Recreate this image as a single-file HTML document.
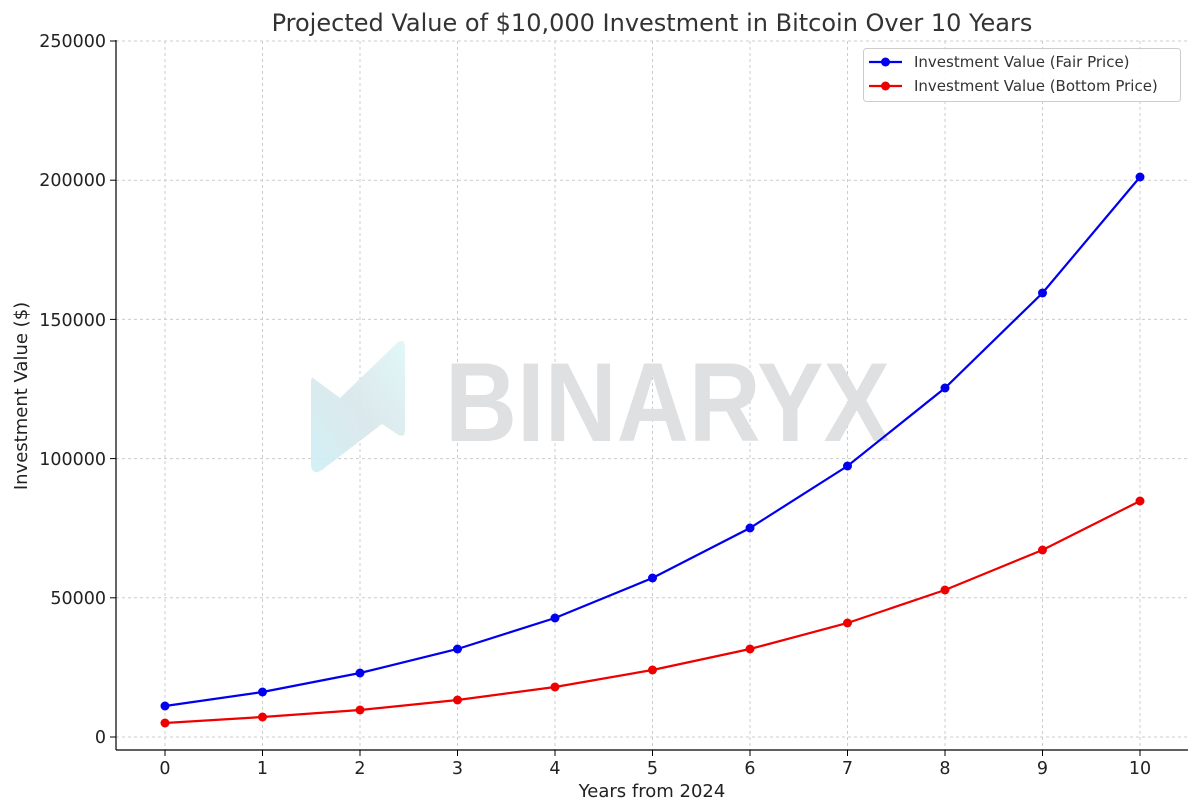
<!DOCTYPE html>
<html><head><meta charset="utf-8"><style>body{margin:0;background:#fff}svg{display:block}</style></head><body>
<svg width="1200" height="812" viewBox="0 0 1200 812" xmlns="http://www.w3.org/2000/svg" font-family="'DejaVu Sans','Liberation Sans',sans-serif">
<defs><linearGradient id="g" x1="0" y1="1" x2="1" y2="0"><stop offset="0" stop-color="#cdeff5"/><stop offset="0.5" stop-color="#d8e6ea"/><stop offset="1" stop-color="#def7f7"/></linearGradient></defs>
<text x="652" y="31" font-size="24" text-anchor="middle" fill="#333">Projected Value of $10,000 Investment in Bitcoin Over 10 Years</text>
<g stroke="#ccc" stroke-width="1" stroke-dasharray="3,3">
<line x1="165" y1="41" x2="165" y2="750"/><line x1="262.5" y1="41" x2="262.5" y2="750"/><line x1="360" y1="41" x2="360" y2="750"/><line x1="457.5" y1="41" x2="457.5" y2="750"/><line x1="555" y1="41" x2="555" y2="750"/><line x1="652.5" y1="41" x2="652.5" y2="750"/><line x1="750" y1="41" x2="750" y2="750"/><line x1="847.5" y1="41" x2="847.5" y2="750"/><line x1="945" y1="41" x2="945" y2="750"/><line x1="1042.5" y1="41" x2="1042.5" y2="750"/><line x1="1140" y1="41" x2="1140" y2="750"/>
<line x1="116" y1="737" x2="1188" y2="737"/><line x1="116" y1="597.8" x2="1188" y2="597.8"/><line x1="116" y1="458.6" x2="1188" y2="458.6"/><line x1="116" y1="319.4" x2="1188" y2="319.4"/><line x1="116" y1="180.2" x2="1188" y2="180.2"/><line x1="116" y1="41" x2="1188" y2="41"/>
</g>
<path d="M313,378 L340,398 L398,342 Q405,338 405,348 L405,430 Q405,439 397,434 L382,424 L322,470 Q312,476 311,465 L311,384 Q311,376 313,378 Z" fill="url(#g)" opacity="0.9"/>
<text x="445" y="441" font-family="'Liberation Sans',sans-serif" font-weight="bold" font-size="112" fill="#dfe0e1" textLength="445" lengthAdjust="spacingAndGlyphs">BINARYX</text>
<g stroke="#000" stroke-width="1.2"><line x1="116" y1="40" x2="116" y2="750"/><line x1="116" y1="750" x2="1188" y2="750"/></g>
<g stroke="#000" stroke-width="1">
<line x1="110" y1="737" x2="116" y2="737"/><line x1="110" y1="597.8" x2="116" y2="597.8"/><line x1="110" y1="458.6" x2="116" y2="458.6"/><line x1="110" y1="319.4" x2="116" y2="319.4"/><line x1="110" y1="180.2" x2="116" y2="180.2"/><line x1="110" y1="41" x2="116" y2="41"/>
<line x1="165" y1="750" x2="165" y2="756"/><line x1="262.5" y1="750" x2="262.5" y2="756"/><line x1="360" y1="750" x2="360" y2="756"/><line x1="457.5" y1="750" x2="457.5" y2="756"/><line x1="555" y1="750" x2="555" y2="756"/><line x1="652.5" y1="750" x2="652.5" y2="756"/><line x1="750" y1="750" x2="750" y2="756"/><line x1="847.5" y1="750" x2="847.5" y2="756"/><line x1="945" y1="750" x2="945" y2="756"/><line x1="1042.5" y1="750" x2="1042.5" y2="756"/><line x1="1140" y1="750" x2="1140" y2="756"/>
</g>
<g font-size="17.5" fill="#222" text-anchor="end">
<text x="106" y="743">0</text><text x="106" y="604">50000</text><text x="106" y="465">100000</text><text x="106" y="326">150000</text><text x="106" y="186">200000</text><text x="106" y="47">250000</text>
</g>
<g font-size="17.5" fill="#222" text-anchor="middle">
<text x="165" y="774">0</text><text x="262.5" y="774">1</text><text x="360" y="774">2</text><text x="457.5" y="774">3</text><text x="555" y="774">4</text><text x="652.5" y="774">5</text><text x="750" y="774">6</text><text x="847.5" y="774">7</text><text x="945" y="774">8</text><text x="1042.5" y="774">9</text><text x="1140" y="774">10</text>
</g>
<text x="652" y="797" font-size="18" fill="#222" text-anchor="middle">Years from 2024</text>
<text transform="translate(27,396) rotate(-90)" font-size="18" fill="#222" text-anchor="middle">Investment Value ($)</text>
<polyline fill="none" stroke="#0000ee" stroke-width="2.2" points="165,706 262.5,692 360,673 457.5,649 555,618 652.5,578 750,528 847.5,466 945,388 1042.5,293 1140,177"/>
<g fill="#0000ee"><circle cx="165" cy="706" r="4.5"/><circle cx="262.5" cy="692" r="4.5"/><circle cx="360" cy="673" r="4.5"/><circle cx="457.5" cy="649" r="4.5"/><circle cx="555" cy="618" r="4.5"/><circle cx="652.5" cy="578" r="4.5"/><circle cx="750" cy="528" r="4.5"/><circle cx="847.5" cy="466" r="4.5"/><circle cx="945" cy="388" r="4.5"/><circle cx="1042.5" cy="293" r="4.5"/><circle cx="1140" cy="177" r="4.5"/></g>
<polyline fill="none" stroke="#ee0000" stroke-width="2.2" points="165,723 262.5,717 360,710 457.5,700 555,687 652.5,670 750,649 847.5,623 945,590 1042.5,550 1140,501"/>
<g fill="#ee0000"><circle cx="165" cy="723" r="4.5"/><circle cx="262.5" cy="717" r="4.5"/><circle cx="360" cy="710" r="4.5"/><circle cx="457.5" cy="700" r="4.5"/><circle cx="555" cy="687" r="4.5"/><circle cx="652.5" cy="670" r="4.5"/><circle cx="750" cy="649" r="4.5"/><circle cx="847.5" cy="623" r="4.5"/><circle cx="945" cy="590" r="4.5"/><circle cx="1042.5" cy="550" r="4.5"/><circle cx="1140" cy="501" r="4.5"/></g>
<rect x="863.5" y="48.5" width="317" height="53" rx="3" fill="#fff" fill-opacity="0.85" stroke="#ccc"/>
<line x1="869" y1="62" x2="902" y2="62" stroke="#0000ee" stroke-width="2.2"/><circle cx="885.5" cy="62" r="4.5" fill="#0000ee"/>
<line x1="869" y1="86" x2="902" y2="86" stroke="#ee0000" stroke-width="2.2"/><circle cx="885.5" cy="86" r="4.5" fill="#ee0000"/>
<text x="914" y="67" font-size="15" fill="#333">Investment Value (Fair Price)</text>
<text x="914" y="91" font-size="15" fill="#333">Investment Value (Bottom Price)</text>
</svg>
</body></html>
